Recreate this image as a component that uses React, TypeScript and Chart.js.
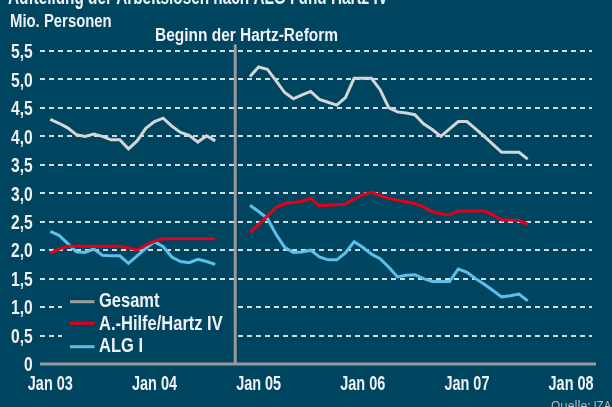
import { useEffect, useRef } from "react";
import { Chart, registerables } from "chart.js";

Chart.register(...registerables);

// ---------- text ----------
const TITLE = "Aufteilung der Arbeitslosen nach ALG I und Hartz IV";
const UNIT_LABEL = "Mio. Personen";
const REFORM_LABEL = "Beginn der Hartz-Reform";
const SOURCE_LABEL = "Quelle: IZA";
const SERIES_NAMES = ["Gesamt", "A.-Hilfe/Hartz IV", "ALG I"];

// ---------- axes ----------
// x = months counted from Jan 2003 (= 0)
const TICK_MONTHS = [0, 12, 24, 36, 48, 60];
const TICK_LABELS = ["Jan 03", "Jan 04", "Jan 05", "Jan 06", "Jan 07", "Jan 08"];
const X_MIN = -1.19;
const X_MAX = 62.41;
const Y_MIN = 0;
const Y_MAX = 5.5;
const Y_STEP = 0.5;
const REFORM_MARK_MONTH = 21.3;
const GAP_MONTH = 21;

// ---------- data ----------
const MONTHS_BEFORE = [0, 1, 2, 3, 4, 5, 6, 7, 8, 9, 10, 11, 12, 13, 14, 15, 16, 17, 18, 19];
const MONTHS_AFTER = [
  23, 24, 25, 26, 27, 28, 29, 30, 31, 32, 33, 34, 35, 36, 37, 38, 39, 40, 41, 42, 43, 44, 45,
  46, 47, 48, 49, 50, 51, 52, 53, 54, 55,
];

const GESAMT_BEFORE = [
  4.3, 4.23, 4.15, 4.03, 4.0, 4.04, 4.0, 3.94, 3.94, 3.78, 3.92, 4.14, 4.26, 4.32, 4.18, 4.07,
  4.02, 3.9, 4.01, 3.92,
];
const HARTZ_BEFORE = [
  1.95, 2.02, 2.07, 2.07, 2.07, 2.07, 2.07, 2.07, 2.07, 2.04, 2.0, 2.09, 2.16, 2.2, 2.2, 2.2,
  2.2, 2.2, 2.2, 2.2,
];
const ALG_BEFORE = [
  2.33, 2.26, 2.12, 1.97, 1.96, 2.02, 1.91, 1.9, 1.9, 1.77, 1.9, 2.03, 2.15, 2.06, 1.88, 1.8,
  1.78, 1.84, 1.8, 1.75,
];

const GESAMT_AFTER = [
  5.05, 5.22, 5.18, 4.98, 4.77, 4.66, 4.73, 4.79, 4.65, 4.6, 4.55, 4.68, 5.02, 5.02, 5.02, 4.82,
  4.5, 4.43, 4.41, 4.38, 4.22, 4.12, 4.0, 4.13, 4.26, 4.26, 4.13, 4.0, 3.86, 3.72, 3.72, 3.72,
  3.6,
];
const HARTZ_AFTER = [
  2.31, 2.45, 2.6, 2.75, 2.82, 2.84, 2.86, 2.91, 2.78, 2.79, 2.8, 2.81, 2.9, 2.97, 3.02, 2.96,
  2.91, 2.88, 2.85, 2.82, 2.76, 2.68, 2.64, 2.62, 2.69, 2.69, 2.69, 2.69, 2.62, 2.53, 2.53, 2.52,
  2.46,
];
const ALG_AFTER = [
  2.79, 2.68, 2.56, 2.28, 2.05, 1.96, 1.97, 2.0, 1.88, 1.83, 1.83, 1.95, 2.15, 2.05, 1.93, 1.85,
  1.7, 1.53, 1.56, 1.57, 1.5, 1.45, 1.45, 1.45, 1.67, 1.61, 1.5, 1.4, 1.29, 1.18, 1.2, 1.23,
  1.11,
];

// ---------- styles ----------
const BG = "#00455f";
const TEXT = "#eef2f4";
const AXIS_GREY = "#9a9a9a";
const GRID = "rgba(226,232,236,0.92)";
const LINE_COLORS = ["#d3d5d6", "#e3001b", "#5cc0ea"];
const LEGEND_COLORS = ["#9d9d9d", "#e3001b", "#5cc0ea"];
const FAMILY = '"Liberation Sans", Arial, sans-serif';

function series(before: number[], after: number[]) {
  return [
    ...MONTHS_BEFORE.map((m, i) => ({ x: m, y: before[i] })),
    { x: GAP_MONTH, y: null as any },
    ...MONTHS_AFTER.map((m, i) => ({ x: m, y: after[i] })),
  ];
}

function formatY(v: number) {
  return v === 0 ? "0" : v.toFixed(1).replace(".", ",");
}

// draw text horizontally condensed by factor k; align left/center/right
function drawCondensed(
  ctx: CanvasRenderingContext2D,
  text: string,
  x: number,
  y: number,
  k: number,
  font: string,
  color: string,
  align: "left" | "center" | "right" = "left"
) {
  ctx.save();
  ctx.font = font;
  ctx.fillStyle = color;
  ctx.textAlign = align;
  ctx.textBaseline = "alphabetic";
  ctx.translate(x, y);
  ctx.scale(k, 1);
  ctx.fillText(text, 0, 0);
  ctx.restore();
}

function factorFor(ctx: CanvasRenderingContext2D, text: string, font: string, width: number) {
  ctx.save();
  ctx.font = font;
  const w = ctx.measureText(text).width;
  ctx.restore();
  return width / w;
}

const decorPlugin = {
  id: "decor",
  beforeDraw(chart: any) {
    const { ctx, width, height } = chart;
    ctx.save();
    ctx.fillStyle = BG;
    ctx.fillRect(0, 0, width, height);
    ctx.restore();
  },
  afterDatasetsDraw(chart: any) {
    const { ctx, chartArea, scales } = chart;
    const xs = scales.x;
    const ys = scales.y;
    const markX = xs.getPixelForValue(REFORM_MARK_MONTH);
    ctx.save();
    // legend box (hides grid lines behind legend)
    const boxLeft = 62;
    const boxTop = ys.getPixelForValue(1.42);
    const boxBottom = ys.getPixelForValue(0.1);
    ctx.fillStyle = BG;
    ctx.fillRect(boxLeft, boxTop, markX - boxLeft, boxBottom - boxTop);
    // legend entries
    const legendFont = `bold 21px ${FAMILY}`;
    const lineYs = [301.7, 323.3, 346.7];
    const textYs = [306.7, 330, 351.7];
    const kLegend = factorFor(ctx, SERIES_NAMES[1], legendFont, 123.7);
    SERIES_NAMES.forEach((name, i) => {
      ctx.strokeStyle = LEGEND_COLORS[i];
      ctx.lineWidth = 3;
      ctx.beginPath();
      ctx.moveTo(70, lineYs[i]);
      ctx.lineTo(94.5, lineYs[i]);
      ctx.stroke();
      drawCondensed(ctx, name, 99, textYs[i], kLegend, legendFont, TEXT);
    });
    // reform marker line
    ctx.strokeStyle = AXIS_GREY;
    ctx.lineWidth = 3;
    ctx.beginPath();
    ctx.moveTo(markX, chartArea.top - 6.5);
    ctx.lineTo(markX, chartArea.bottom);
    ctx.stroke();
    // x axis line
    ctx.beginPath();
    ctx.moveTo(chartArea.left, chartArea.bottom);
    ctx.lineTo(chartArea.right + 4, chartArea.bottom);
    ctx.stroke();
    ctx.restore();
  },
  afterDraw(chart: any) {
    const { ctx, scales } = chart;
    const xs = scales.x;
    const ys = scales.y;
    // y tick labels
    const yFont = `bold 20px ${FAMILY}`;
    const ky = factorFor(ctx, "5,5", yFont, 21.7);
    ys.ticks.forEach((t: any) => {
      const py = ys.getPixelForValue(t.value);
      drawCondensed(ctx, formatY(t.value), 32.7, py + 7.3, ky, yFont, TEXT, "right");
    });
    // x tick labels
    const xFont = `bold 21px ${FAMILY}`;
    const kx = factorFor(ctx, "Jan 03", xFont, 45);
    TICK_MONTHS.forEach((m, i) => {
      const px = xs.getPixelForValue(m);
      drawCondensed(ctx, TICK_LABELS[i], px, 390, kx, xFont, TEXT, "center");
    });
    // titles
    const titleFont = `bold 22px ${FAMILY}`;
    drawCondensed(ctx, TITLE, 8, 4, factorFor(ctx, TITLE, titleFont, 380), titleFont, TEXT);
    const unitFont = `bold 18.5px ${FAMILY}`;
    drawCondensed(ctx, UNIT_LABEL, 10, 26.7, factorFor(ctx, UNIT_LABEL, unitFont, 101.7), unitFont, TEXT);
    const reformFont = `bold 18px ${FAMILY}`;
    drawCondensed(ctx, REFORM_LABEL, 155, 40.8, factorFor(ctx, REFORM_LABEL, reformFont, 183), reformFont, TEXT);
    ctx.save();
    ctx.font = '12px "Open Sans", "Noto Sans", sans-serif';
    ctx.fillStyle = "#b9c6ce";
    ctx.textAlign = "left";
    ctx.textBaseline = "alphabetic";
    ctx.fillText(SOURCE_LABEL, 551, 409.5);
    ctx.restore();
  },
};

export default function App() {
  const canvasRef = useRef<HTMLCanvasElement | null>(null);

  useEffect(() => {
    const canvas = canvasRef.current;
    if (!canvas) return;
    const chart = new Chart(canvas, {
      type: "line",
      data: {
        datasets: [
          {
            label: SERIES_NAMES[0],
            data: series(GESAMT_BEFORE, GESAMT_AFTER),
            borderColor: LINE_COLORS[0],
            order: 2,
          },
          {
            label: SERIES_NAMES[1],
            data: series(HARTZ_BEFORE, HARTZ_AFTER),
            borderColor: LINE_COLORS[1],
            order: 0,
          },
          {
            label: SERIES_NAMES[2],
            data: series(ALG_BEFORE, ALG_AFTER),
            borderColor: LINE_COLORS[2],
            order: 1,
          },
        ] as any,
      },
      options: {
        responsive: false,
        animation: false,
        spanGaps: false,
        elements: {
          point: { radius: 0, hoverRadius: 0 },
          line: { borderWidth: 3, tension: 0, fill: false },
        },
        layout: { padding: { top: 51, right: 20, bottom: 0, left: 0 } },
        plugins: { legend: { display: false }, tooltip: { enabled: false } },
        scales: {
          x: {
            type: "linear",
            min: X_MIN,
            max: X_MAX,
            grid: { display: false },
            border: { display: false },
            afterBuildTicks: (s: any) => {
              s.ticks = TICK_MONTHS.map((v) => ({ value: v }));
            },
            afterFit: (s: any) => {
              s.height = 43;
            },
            ticks: { display: false },
          },
          y: {
            min: Y_MIN,
            max: Y_MAX,
            afterFit: (s: any) => {
              s.width = 40;
            },
            grid: { color: GRID, lineWidth: 2, drawTicks: false },
            border: { display: false, dash: [5, 4] },
            ticks: { display: false, stepSize: Y_STEP },
          },
        },
      } as any,
      plugins: [decorPlugin],
    });
    return () => chart.destroy();
  }, []);

  return (
    <div style={{ position: "fixed", left: 0, top: 0, width: 612, height: 407, background: BG }}>
      <canvas ref={canvasRef} width={612} height={407} style={{ display: "block" }} />
    </div>
  );
}
